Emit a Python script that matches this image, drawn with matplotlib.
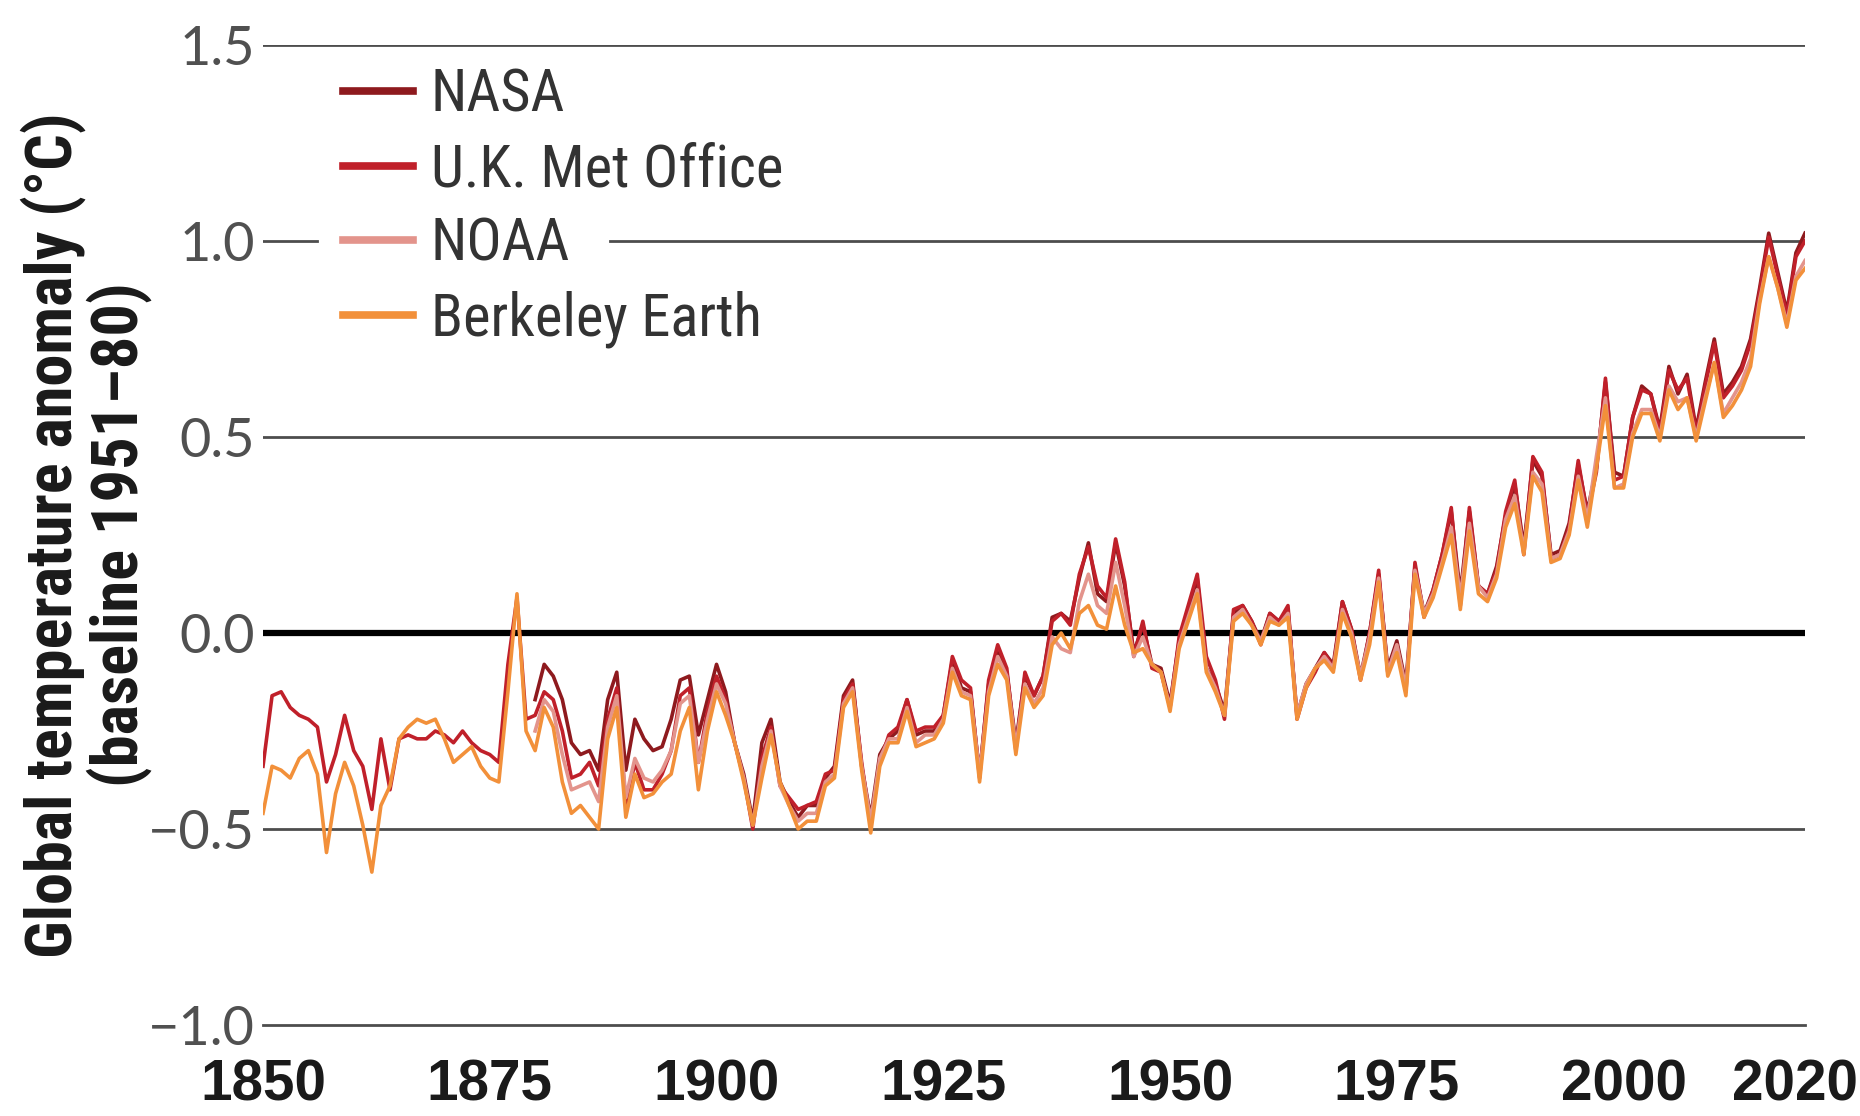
import matplotlib
matplotlib.use("Agg")
import matplotlib.pyplot as plt
from matplotlib import font_manager
from matplotlib.font_manager import FontProperties
from matplotlib.transforms import ScaledTranslation

# ---------------------------------------------------------------------------
# Annual global temperature anomalies (deg C, baseline 1951-80)
# ---------------------------------------------------------------------------
years_full = list(range(1850, 2021))   # U.K. Met Office and Berkeley Earth
years_1880 = list(range(1880, 2021))   # NASA and NOAA

nasa = [
    -0.17, -0.08, -0.11, -0.17, -0.28, -0.31, -0.30, -0.35, -0.17, -0.10,   # 1880s
    -0.35, -0.22, -0.27, -0.30, -0.29, -0.22, -0.12, -0.11, -0.26, -0.17,   # 1890s
    -0.08, -0.15, -0.28, -0.36, -0.48, -0.28, -0.22, -0.38, -0.43, -0.47,   # 1900s
    -0.44, -0.44, -0.37, -0.34, -0.16, -0.12, -0.34, -0.47, -0.31, -0.27,   # 1910s
    -0.25, -0.17, -0.26, -0.25, -0.25, -0.21, -0.07, -0.14, -0.15, -0.36,   # 1920s
    -0.13, -0.05, -0.10, -0.28, -0.11, -0.16, -0.11, 0.04, 0.05, 0.03,      # 1930s
    0.14, 0.23, 0.10, 0.08, 0.23, 0.12, -0.05, 0.02, -0.08, -0.09,          # 1940s
    -0.18, -0.02, 0.06, 0.14, -0.09, -0.13, -0.20, 0.05, 0.07, 0.03,        # 1950s
    -0.02, 0.05, 0.03, 0.06, -0.21, -0.13, -0.09, -0.05, -0.08, 0.08,       # 1960s
    0.01, -0.11, 0.00, 0.15, -0.09, -0.02, -0.13, 0.17, 0.05, 0.11,         # 1970s
    0.20, 0.31, 0.10, 0.31, 0.12, 0.10, 0.17, 0.30, 0.38, 0.22,             # 1980s
    0.44, 0.40, 0.20, 0.21, 0.28, 0.43, 0.31, 0.42, 0.64, 0.41,             # 1990s
    0.40, 0.55, 0.63, 0.61, 0.52, 0.68, 0.61, 0.66, 0.52, 0.64,             # 2000s
    0.75, 0.61, 0.64, 0.68, 0.75, 0.88, 1.02, 0.92, 0.82, 0.97,             # 2010s
    1.02,                                                                   # 2020
]

ukmet = [
    -0.34, -0.16, -0.15, -0.19, -0.21, -0.22, -0.24, -0.38, -0.31, -0.21,   # 1850s
    -0.30, -0.34, -0.45, -0.27, -0.40, -0.27, -0.26, -0.27, -0.27, -0.25,   # 1860s
    -0.26, -0.28, -0.25, -0.28, -0.30, -0.31, -0.33, -0.08, 0.09, -0.22,    # 1870s
    -0.21, -0.15, -0.17, -0.25, -0.37, -0.36, -0.33, -0.39, -0.22, -0.14,   # 1880s
    -0.44, -0.33, -0.40, -0.40, -0.36, -0.30, -0.16, -0.14, -0.33, -0.20,   # 1890s
    -0.11, -0.17, -0.28, -0.37, -0.50, -0.32, -0.24, -0.39, -0.42, -0.45,   # 1900s
    -0.44, -0.43, -0.36, -0.35, -0.17, -0.13, -0.33, -0.49, -0.33, -0.26,   # 1910s
    -0.24, -0.17, -0.25, -0.24, -0.24, -0.21, -0.06, -0.12, -0.14, -0.37,   # 1920s
    -0.12, -0.03, -0.09, -0.30, -0.10, -0.16, -0.11, 0.03, 0.05, 0.02,      # 1930s
    0.15, 0.22, 0.12, 0.09, 0.24, 0.13, -0.06, 0.03, -0.09, -0.10,          # 1940s
    -0.19, -0.01, 0.07, 0.15, -0.06, -0.12, -0.22, 0.06, 0.07, 0.03,        # 1950s
    -0.03, 0.05, 0.03, 0.07, -0.22, -0.14, -0.10, -0.05, -0.09, 0.08,       # 1960s
    0.01, -0.12, 0.00, 0.16, -0.10, -0.03, -0.15, 0.18, 0.04, 0.11,         # 1970s
    0.20, 0.32, 0.07, 0.32, 0.12, 0.10, 0.16, 0.31, 0.39, 0.20,             # 1980s
    0.45, 0.41, 0.19, 0.20, 0.27, 0.44, 0.30, 0.41, 0.65, 0.39,             # 1990s
    0.40, 0.55, 0.62, 0.61, 0.51, 0.67, 0.62, 0.65, 0.51, 0.63,             # 2000s
    0.74, 0.60, 0.63, 0.67, 0.74, 0.87, 1.01, 0.91, 0.81, 0.96,             # 2010s
    1.00,                                                                   # 2020
]

noaa = [
    -0.25, -0.17, -0.20, -0.31, -0.40, -0.39, -0.38, -0.43, -0.24, -0.16,   # 1880s
    -0.42, -0.32, -0.37, -0.38, -0.35, -0.30, -0.18, -0.16, -0.33, -0.22,   # 1890s
    -0.13, -0.18, -0.28, -0.37, -0.49, -0.34, -0.25, -0.39, -0.44, -0.48,   # 1900s
    -0.46, -0.46, -0.38, -0.36, -0.18, -0.14, -0.34, -0.48, -0.32, -0.27,   # 1910s
    -0.27, -0.19, -0.28, -0.26, -0.26, -0.22, -0.09, -0.15, -0.16, -0.36,   # 1920s
    -0.15, -0.06, -0.11, -0.29, -0.13, -0.18, -0.14, -0.01, -0.04, -0.05,   # 1930s
    0.08, 0.15, 0.07, 0.05, 0.18, 0.07, -0.06, -0.01, -0.08, -0.10,         # 1940s
    -0.19, -0.03, 0.04, 0.11, -0.09, -0.14, -0.21, 0.04, 0.06, 0.02,        # 1950s
    -0.02, 0.04, 0.02, 0.05, -0.21, -0.13, -0.09, -0.06, -0.09, 0.06,       # 1960s
    0.00, -0.11, -0.01, 0.14, -0.10, -0.03, -0.14, 0.16, 0.05, 0.10,        # 1970s
    0.18, 0.27, 0.09, 0.28, 0.12, 0.09, 0.15, 0.29, 0.35, 0.21,             # 1980s
    0.41, 0.38, 0.19, 0.20, 0.26, 0.40, 0.29, 0.45, 0.60, 0.37,             # 1990s
    0.38, 0.51, 0.57, 0.57, 0.50, 0.63, 0.59, 0.60, 0.50, 0.60,             # 2000s
    0.69, 0.56, 0.60, 0.64, 0.70, 0.85, 0.96, 0.88, 0.79, 0.91,             # 2010s
    0.95,                                                                   # 2020
]

berkeley = [
    -0.46, -0.34, -0.35, -0.37, -0.32, -0.30, -0.36, -0.56, -0.41, -0.33,   # 1850s
    -0.39, -0.49, -0.61, -0.44, -0.39, -0.27, -0.24, -0.22, -0.23, -0.22,   # 1860s
    -0.27, -0.33, -0.31, -0.29, -0.34, -0.37, -0.38, -0.15, 0.10, -0.25,    # 1870s
    -0.30, -0.19, -0.24, -0.38, -0.46, -0.44, -0.47, -0.50, -0.27, -0.19,   # 1880s
    -0.47, -0.36, -0.42, -0.41, -0.38, -0.36, -0.25, -0.19, -0.40, -0.25,   # 1890s
    -0.15, -0.21, -0.28, -0.38, -0.49, -0.37, -0.26, -0.38, -0.44, -0.50,   # 1900s
    -0.48, -0.48, -0.39, -0.37, -0.19, -0.15, -0.35, -0.51, -0.34, -0.28,   # 1910s
    -0.28, -0.20, -0.29, -0.28, -0.27, -0.23, -0.10, -0.16, -0.17, -0.38,   # 1920s
    -0.16, -0.08, -0.12, -0.31, -0.14, -0.19, -0.16, -0.03, 0.00, -0.04,    # 1930s
    0.05, 0.07, 0.02, 0.01, 0.12, 0.02, -0.05, -0.04, -0.08, -0.10,         # 1940s
    -0.20, -0.04, 0.03, 0.10, -0.10, -0.15, -0.21, 0.03, 0.05, 0.02,        # 1950s
    -0.03, 0.03, 0.02, 0.04, -0.22, -0.14, -0.09, -0.07, -0.10, 0.05,       # 1960s
    -0.01, -0.12, -0.03, 0.13, -0.11, -0.05, -0.16, 0.15, 0.04, 0.09,       # 1970s
    0.17, 0.25, 0.06, 0.26, 0.10, 0.08, 0.14, 0.27, 0.33, 0.20,             # 1980s
    0.40, 0.36, 0.18, 0.19, 0.25, 0.39, 0.27, 0.42, 0.58, 0.37,             # 1990s
    0.37, 0.50, 0.56, 0.56, 0.49, 0.62, 0.57, 0.60, 0.49, 0.59,             # 2000s
    0.69, 0.55, 0.58, 0.62, 0.68, 0.84, 0.96, 0.88, 0.78, 0.90,             # 2010s
    0.93,                                                                   # 2020
]

x_ticks = [1850, 1875, 1900, 1925, 1950, 1975, 2000, 2020]
y_ticks = [-1.0, -0.5, 0.0, 0.5, 1.0, 1.5]
y_tick_labels = ["\u22121.0", "\u22120.5", "0.0", "0.5", "1.0", "1.5"]


# ---------------------------------------------------------------------------
# Fonts: prefer a condensed face for the axis title and legend
# ---------------------------------------------------------------------------
def condensed_face(bold):
    prefs = ["Liberation Sans Narrow", "Roboto Condensed", "Noto Sans",
             "Open Sans", "DejaVu Sans"]
    found = []
    for f in font_manager.fontManager.ttflist:
        path = f.fname
        base = path.rsplit("/", 1)[-1]
        cond = ("Narrow" in f.name or "Cond" in f.name or "Narrow" in base
                or "Cond" in base or str(f.stretch).endswith("condensed"))
        if not cond or "Italic" in base or "Oblique" in base:
            continue
        w = f.weight if isinstance(f.weight, int) else \
            font_manager.weight_dict.get(f.weight, 400)
        is_bold = w >= 600 or "Bold" in base
        if "ExtraBold" in base or "Black" in base or "Semi" in base \
                or "Light" in base or "Medium" in base or "Thin" in base:
            continue
        if is_bold != bold:
            continue
        rank = len(prefs)
        for i, p in enumerate(prefs):
            if f.name.startswith(p):
                rank = i
                break
        found.append((rank, path))
    if found:
        found.sort()
        return FontProperties(fname=found[0][1])
    return FontProperties(family="DejaVu Sans",
                          weight="bold" if bold else "normal")


title_fp = condensed_face(True)
legend_fp = condensed_face(False)
names = {f.name for f in font_manager.fontManager.ttflist}
tick_family = "Lato" if "Lato" in names else "DejaVu Sans"

fig = plt.figure(figsize=(18.6, 11.16), dpi=100)
renderer = fig.canvas.get_renderer()


def fit_size(fp, text, target_px, base=40.0):
    probe = fig.text(0, 0, text, fontproperties=fp, fontsize=base)
    w = probe.get_window_extent(renderer).width
    probe.remove()
    return base * target_px / w


ax = fig.add_axes([263 / 1860, 1 - 1025 / 1116, 1542 / 1860, 980 / 1116])
ax.set_xlim(1850, 2020)
ax.set_ylim(-1.0, 1.5)

grid_color = "#4d4d4d"
for v in (1.5, 0.5, -0.5):
    ax.axhline(v, color=grid_color, lw=2.0, zorder=1)
# the 1.0 rule is interrupted behind the legend
ax.axhline(1.0, xmin=0.0, xmax=0.035, color=grid_color, lw=2.0, zorder=1)
ax.axhline(1.0, xmin=0.225, xmax=1.0, color=grid_color, lw=2.0, zorder=1)
ax.axhline(0.0, color="black", lw=4.5, zorder=1)

series = [
    ("NASA", years_1880, nasa, "#8e1a1e"),
    ("U.K. Met Office", years_full, ukmet, "#c0202a"),
    ("NOAA", years_1880, noaa, "#e3948c"),
    ("Berkeley Earth", years_full, berkeley, "#f2903a"),
]
for label, xs, ys, color in series:
    ax.plot(xs, ys, color=color, lw=2.6, label=label, zorder=3,
            solid_joinstyle="round")

for side in ("top", "right", "left"):
    ax.spines[side].set_visible(False)
ax.spines["bottom"].set_color(grid_color)
ax.spines["bottom"].set_linewidth(2.0)

# y axis
ax.set_yticks(y_ticks)
ax.set_yticklabels(y_tick_labels, fontfamily=tick_family, fontweight="normal",
                   fontsize=39, color="#505050")
ax.tick_params(axis="y", length=0, pad=6)

# x axis: bold year labels, small upturned ticks only at the two ends
ax.set_xticks(x_ticks)
x_fp = FontProperties(family="Liberation Sans", weight="bold")
x_size = fit_size(x_fp, "1850", 126)
ax.set_xticklabels([str(t) for t in x_ticks], fontproperties=x_fp,
                   fontsize=x_size, color="#1a1a1a")
ax.tick_params(axis="x", which="major", length=0, pad=24)
ax.set_xticks([1850, 2020], minor=True)
ax.tick_params(axis="x", which="minor", direction="in", length=9, width=2.0,
               color=grid_color)
last = ax.get_xticklabels()[-1]
last.set_transform(last.get_transform()
                   + ScaledTranslation(-0.10, 0, fig.dpi_scale_trans))

# axis title
title = "Global temperature anomaly (\u00b0C)\n(baseline 1951\u201380)"
t_size = fit_size(title_fp, "Global temperature anomaly (\u00b0C)", 845)
fig.text(86 / 1860, 1 - 535 / 1116, title, rotation=90, ha="center",
         va="center", multialignment="center", fontproperties=title_fp,
         fontsize=t_size, color="#1a1a1a", linespacing=1.0)

# legend
l_size = fit_size(legend_fp, "U.K. Met Office", 352)
leg_prop = legend_fp.copy()
leg_prop.set_size(l_size)
leg = ax.legend(loc="upper left", bbox_to_anchor=(0.052, 0.978), frameon=False,
                handlelength=70 / (l_size * 100 / 72), handletextpad=0.3,
                labelspacing=0.30, borderpad=0.0, borderaxespad=0.0,
                prop=leg_prop)
for line in leg.get_lines():
    line.set_linewidth(5.5)
for txt in leg.get_texts():
    txt.set_color("#333333")

fig.savefig("out.png", dpi=100, facecolor="white")
